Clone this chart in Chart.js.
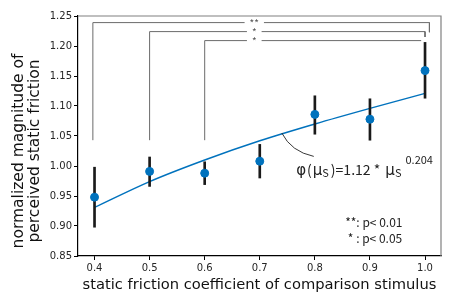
<!DOCTYPE html>
<html>
<head>
<meta charset="utf-8">
<script src="https://cdn.jsdelivr.net/npm/chart.js@4"></script>
<style>
  html, body { margin: 0; padding: 0; background: #fff; }
  #wrap { width: 457px; height: 305px; }
</style>
</head>
<body>
<div id="wrap"><canvas id="c" width="457" height="305"></canvas></div>
<script>
// data
const mu = [0.4, 0.5, 0.6, 0.7, 0.8, 0.9, 1.0];
const meanVals = [0.948, 0.991, 0.988, 1.008, 1.086, 1.078, 1.159];
const errLow = [0.898, 0.966, 0.969, 0.980, 1.053, 1.043, 1.113];
const errHigh = [0.998, 1.015, 1.007, 1.036, 1.117, 1.112, 1.206];
const fitVals = [0.931, 0.974, 1.010, 1.042, 1.070, 1.096, 1.121];

const xTicks = [0.4, 0.5, 0.6, 0.7, 0.8, 0.9, 1.0];
const yTicks = [0.85, 0.90, 0.95, 1.00, 1.05, 1.10, 1.15, 1.20, 1.25];
const yTitle = ['normalized magnitude of', 'perceived static friction'];

// significance brackets: [x left, x right, y top, y right end, label]
const brackets = [
  [0.397, 1.008, 1.239, 1.223, '**'],
  [0.5, 1.0, 1.224, 1.215, '*'],
  [0.6, 0.993, 1.209, 1.209, '*']
];
const bracketFoot = 1.043;
const bracketLabelX = 0.69;

const blue = 'rgb(0,114,189)';
const grey = '#6b6b6b';

const bracketSets = brackets.map(b => ({
  type: 'scatter',
  data: [{x: b[0], y: bracketFoot}, {x: b[0], y: b[2]}, {x: b[1], y: b[2]}, {x: b[1], y: b[3]}],
  showLine: true,
  borderColor: grey,
  borderWidth: 1,
  pointRadius: 0,
  order: 5
}));

const extras = {
  id: 'extras',
  afterDraw(chart) {
    const {ctx, chartArea: a, scales: {x, y}} = chart;
    ctx.save();
    // top and right spines
    ctx.strokeStyle = '#808080';
    ctx.lineWidth = 1.2;
    ctx.beginPath();
    ctx.moveTo(a.left, a.top);
    ctx.lineTo(a.right, a.top);
    ctx.lineTo(a.right, a.bottom);
    ctx.stroke();

    // y axis title, two lines
    ctx.save();
    ctx.translate(27, 151);
    ctx.rotate(-Math.PI / 2);
    ctx.font = '15.5px "DejaVu Sans"';
    ctx.fillStyle = '#111';
    ctx.textAlign = 'center';
    ctx.textBaseline = 'middle';
    ctx.fillText(yTitle[0], 0, -8);
    ctx.fillText(yTitle[1], 0, 8);
    ctx.restore();

    // bracket labels
    ctx.font = '10px "Noto Sans CJK JP"';
    ctx.textAlign = 'center';
    ctx.textBaseline = 'middle';
    brackets.forEach(b => {
      const px = x.getPixelForValue(bracketLabelX);
      const py = y.getPixelForValue(b[2]);
      const w = ctx.measureText(b[4]).width + 10;
      ctx.fillStyle = '#fff';
      ctx.fillRect(px - w / 2, py - 3, w, 6);
      ctx.fillStyle = '#555';
      ctx.fillText(b[4], px, py + 1);
    });

    // leader curve from fit line to equation
    ctx.strokeStyle = '#222';
    ctx.lineWidth = 0.9;
    ctx.beginPath();
    ctx.moveTo(x.getPixelForValue(0.740), y.getPixelForValue(1.055));
    ctx.quadraticCurveTo(x.getPixelForValue(0.757), y.getPixelForValue(1.024),
                         x.getPixelForValue(0.798), y.getPixelForValue(1.016));
    ctx.stroke();

    // equation
    ctx.fillStyle = '#222';
    ctx.textAlign = 'left';
    ctx.textBaseline = 'alphabetic';
    let ex = x.getPixelForValue(0.766);
    const ey = y.getPixelForValue(0.9855);
    const phi = '15px "DejaVu Sans"';
    const big = '14px "Noto Sans CJK JP"';
    const small = '11px "Noto Sans CJK JP"';
    const parts = [
      ['\u03c6', phi, 0, 1], ['(', big, 0, 1], ['\u03bc', phi, 0, 0], ['S', small, 2, 2], [')=1.12 * ', big, 0, 2], ['\u03bc', phi, 0, 0], ['S', small, 2, 4], ['0.204', small, -11, 0]
    ];
    parts.forEach(p => {
      ctx.font = p[1];
      ctx.fillText(p[0], ex, ey + p[2]);
      ex += ctx.measureText(p[0]).width + p[3];
    });

    // p-value legend
    ctx.font = '12px "Noto Sans CJK JP"';
    ctx.fillText('**: p< 0.01', x.getPixelForValue(0.855), y.getPixelForValue(0.899));
    ctx.fillText(' * : p< 0.05', x.getPixelForValue(0.855), y.getPixelForValue(0.872));
    ctx.restore();
  }
};

new Chart(document.getElementById('c'), {
  type: 'scatter',
  data: {
    datasets: [
      {
        type: 'line',
        data: mu.map((v, i) => ({x: v, y: fitVals[i]})),
        borderColor: blue,
        borderWidth: 1.5,
        pointRadius: 0,
        cubicInterpolationMode: 'monotone',
        fill: false,
        order: 3
      },
      {
        type: 'bar',
        data: mu.map((v, i) => ({x: v, y: [errLow[i], errHigh[i]]})),
        backgroundColor: '#1a1a1a',
        borderWidth: 0,
        barThickness: 2,
        order: 2
      },
      {
        type: 'scatter',
        data: mu.map((v, i) => ({x: v, y: meanVals[i]})),
        backgroundColor: blue,
        borderColor: blue,
        pointRadius: 4,
        order: 1
      },
      ...bracketSets
    ]
  },
  options: {
    responsive: false,
    animation: false,
    layout: {padding: {top: 16, right: 16, left: 0, bottom: 0}},
    plugins: {legend: {display: false}, tooltip: {enabled: false}},
    scales: {
      x: {
        type: 'linear',
        offset: false,
        min: 0.37,
        max: 1.029,
        afterBuildTicks: s => { s.ticks = xTicks.map(v => ({value: v})); },
        afterFit: s => { s.height = 49; },
        ticks: {
          callback: v => v.toFixed(1),
          font: {family: 'DejaVu Sans', size: 10},
          color: '#262626',
          padding: 2,
          maxRotation: 0
        },
        grid: {drawOnChartArea: false, offset: false, tickLength: 4, color: '#000'},
        border: {color: '#000', width: 1.2},
        title: {
          display: true,
          text: 'static friction coefficient of comparison stimulus',
          font: {family: 'DejaVu Sans', size: 14.7},
          color: '#111',
          padding: {top: 0, bottom: 11}
        }
      },
      y: {
        type: 'linear',
        min: 0.85,
        max: 1.25,
        afterBuildTicks: s => { s.ticks = yTicks.map(v => ({value: v})); },
        afterFit: s => { s.width = 78; },
        ticks: {
          callback: v => v.toFixed(2),
          font: {family: 'DejaVu Sans', size: 10},
          color: '#262626',
          padding: 2
        },
        grid: {drawOnChartArea: false, tickLength: 4, color: '#000'},
        border: {color: '#000', width: 1.2}
      }
    }
  },
  plugins: [extras]
});
</script>
</body>
</html>
